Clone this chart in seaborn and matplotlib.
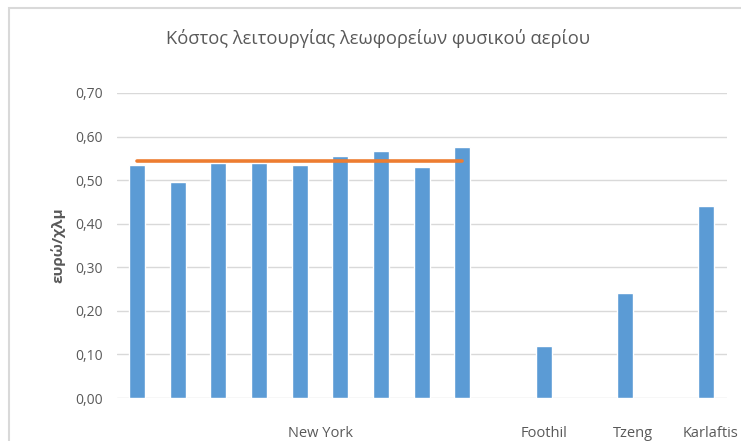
import pandas as pd
import matplotlib.pyplot as plt
import seaborn as sns
from matplotlib.patches import Rectangle
from matplotlib.ticker import FuncFormatter

# bar slots, left to right (empty slots keep the gaps between the groups)
slots = ["NY1", "NY2", "NY3", "NY4", "NY5", "NY6", "NY7", "NY8", "NY9",
         "gap1", "Foothil", "gap2", "Tzeng", "gap3", "Karlaftis"]
bar_slots = ["NY1", "NY2", "NY3", "NY4", "NY5", "NY6", "NY7", "NY8", "NY9",
             "Foothil", "Tzeng", "Karlaftis"]
bar_values = [0.535, 0.495, 0.54, 0.54, 0.535, 0.556, 0.566, 0.530, 0.577,
              0.12, 0.24, 0.44]
# average line over the New York bars
avg_slots = ["NY1", "NY2", "NY3", "NY4", "NY5", "NY6", "NY7", "NY8", "NY9"]
avg_values = [0.543, 0.543, 0.543, 0.543, 0.543, 0.543, 0.543, 0.543, 0.543]
group_labels = ["New York", "Foothil", "Tzeng", "Karlaftis"]
group_pos = [4.5, 10.0, 12.2, 14.1]

title = "Κόστος λειτουργίας λεωφορείων φυσικού αερίου"
ylabel = "ευρώ/χλμ"

BLUE = "#5B9BD5"
ORANGE = "#ED7D31"
GRID = "#D9D9D9"
TEXT = "#595959"

sns.set_theme(style="white")
plt.rcParams['font.family'] = ['Open Sans', 'DejaVu Sans']

bars = pd.DataFrame({"slot": bar_slots, "value": bar_values})
avg = pd.DataFrame({"pos": [slots.index(s) for s in avg_slots], "value": avg_values})

fig = plt.figure(figsize=(7.41, 4.41), dpi=100)
ax = fig.add_axes([116.7 / 741, 1 - 398 / 441, 610 / 741, 305 / 441])

sns.barplot(data=bars, x="slot", y="value", order=slots, color=BLUE,
            width=0.39, saturation=1, ax=ax, zorder=2)
sns.lineplot(data=avg, x="pos", y="value", color=ORANGE, linewidth=2.6,
             ax=ax, zorder=3)

ax.set_xlim(-0.5, len(slots) - 0.5)
ax.set_ylim(0, 0.70)
ax.set_yticks([0, 0.1, 0.2, 0.3, 0.4, 0.5, 0.6, 0.7])
ax.yaxis.set_major_formatter(FuncFormatter(lambda v, p: f"{v:.2f}".replace(".", ",")))
ax.yaxis.grid(True, color=GRID, linewidth=1, zorder=0)
ax.set_axisbelow(True)
ax.tick_params(axis="y", length=0, pad=10, labelsize=10, labelcolor=TEXT)
ax.set_xticks([])
ax.set_xlabel("")
ax.set_ylabel(ylabel, fontsize=11, fontweight="bold", color=TEXT, labelpad=7)
for s in ax.spines.values():
    s.set_visible(False)

for lab, x in zip(group_labels, group_pos):
    ax.text(x, -0.115, lab, transform=ax.get_xaxis_transform(), ha="center",
            va="center", fontsize=10.5, color=TEXT)

fig.text(378.5 / 741, 1 - 39 / 441, title, ha="center", va="center",
         fontsize=13.2, color=TEXT)

# chart frame
fig.patches.append(Rectangle((8.5 / 741, -0.1), 1.2, (441 - 7.5) / 441 + 0.1,
                             transform=fig.transFigure, fill=False,
                             edgecolor=GRID, linewidth=1.5))

fig.savefig("out.png", dpi=100, facecolor="white")
